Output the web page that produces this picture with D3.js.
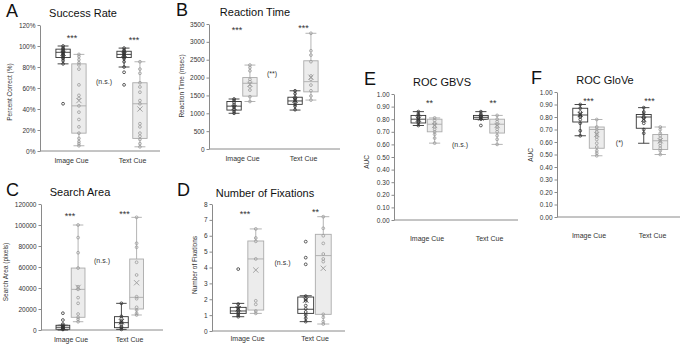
<!DOCTYPE html>
<html><head><meta charset="utf-8">
<script src="https://cdn.jsdelivr.net/npm/d3@7"></script>
<style>body{margin:0;background:#fff}svg text{font-family:"Liberation Sans",Arial,sans-serif}</style>
</head><body><svg id="c" width="685" height="346"></svg>
<script>
const categories = ["Image Cue", "Text Cue"];
// Box order in each panel: Image Cue (dark), Image Cue (light), Text Cue (dark), Text Cue (light)
// Stats: [whiskerLow, q1, median, q3, whiskerHigh, mean]
const successStats = [[0.83,0.89,0.94,0.97,1.00,0.93],[0.05,0.17,0.43,0.83,0.92,0.48],[0.80,0.89,0.92,0.95,0.98,0.92],[0.04,0.12,0.45,0.65,0.85,0.40]];
const successPoints = [[1.00,0.98,0.97,0.96,0.95,0.94,0.93,0.92,0.91,0.90,0.89,0.88,0.86,0.83,0.45],
  [0.92,0.90,0.87,0.84,0.82,0.78,0.63,0.53,0.50,0.43,0.37,0.30,0.23,0.17,0.12,0.09,0.07,0.05],
  [0.98,0.96,0.95,0.94,0.93,0.92,0.91,0.90,0.89,0.88,0.85,0.80,0.75,0.63],
  [0.85,0.78,0.74,0.65,0.61,0.56,0.48,0.45,0.26,0.23,0.17,0.14,0.11,0.07,0.04]];
const successTicks = [0,0.2,0.4,0.6,0.8,1.0,1.2];
const successSig = ["***","***","(n.s.)"];

const reactionStats = [[1000,1090,1200,1330,1400,1160],[1330,1480,1840,2000,2350,1810],[1090,1250,1345,1450,1630,1370],[1370,1600,1885,2470,3240,2010]];
const reactionPoints = [[1400,1360,1300,1250,1200,1160,1100,1050,1000],
  [2350,2280,2190,1950,1885,1745,1650,1465,1330],
  [1630,1550,1450,1400,1350,1300,1250,1200,1100],
  [3240,2750,2630,2445,2045,1950,1790,1630,1485,1370]];
const reactionTicks = [0,500,1000,1500,2000,2500,3000,3500];
const reactionSig = ["***","***","(**)"];

const areaStats = [[0,700,2600,4500,4500,2500],[7900,12100,38700,59000,100000,40600],[600,2200,7000,12700,25400,7900],[14300,20000,31100,67600,107300,45000]];
const areaPoints = [[16000,9500,5700,4500,3500,3000,2500,2000,1500,1000,500],
  [100000,88000,73600,59000,41200,38700,30800,25400,15200,12100,10200,7900],
  [25400,13000,11000,8000,7000,5000,3000,2200,600],
  [107300,82600,78800,64500,52400,31700,29800,21600,19000,15900,14300]];
const areaTicks = [0,20000,40000,60000,80000,100000,120000];
const areaSig = ["***","***","(n.s.)"];

const fixStats = [[0.9,1.11,1.26,1.49,1.74,1.4],[1.11,1.32,4.54,5.67,6.43,3.84],[0.59,1.11,1.37,2.14,2.22,1.95],[0.44,1.05,4.75,6.09,7.2,3.95]];
const fixPoints = [[3.9,1.7,1.5,1.4,1.3,1.2,1.1,1.0,0.9],
  [6.43,5.86,5.65,4.54,1.9,1.68,1.26,1.11],
  [5.63,4.62,4.2,2.2,2.0,1.9,1.6,1.4,1.2,1.0,0.8,0.59],
  [7.2,6.47,6.0,5.52,4.85,4.54,4.37,1.05,0.86,0.59,0.44]];
const fixTicks = [0,1,2,3,4,5,6,7,8];
const fixSig = ["***","**","(n.s.)"];

const gbvsStats = [[0.75,0.77,0.80,0.83,0.86,0.80],[0.61,0.70,0.76,0.80,0.81,0.75],[0.80,0.80,0.815,0.83,0.86,0.81],[0.60,0.69,0.76,0.80,0.83,0.75]];
const gbvsPoints = [[0.86,0.84,0.83,0.82,0.81,0.80,0.79,0.78,0.77,0.75],
  [0.81,0.79,0.77,0.76,0.74,0.72,0.70,0.68,0.65,0.61],
  [0.86,0.84,0.83,0.82,0.81,0.80,0.75],
  [0.83,0.80,0.78,0.76,0.74,0.72,0.70,0.67,0.64,0.60]];
const aucTicks = [0,0.1,0.2,0.3,0.4,0.5,0.6,0.7,0.8,0.9,1.0];
const gbvsSig = ["**","**","(n.s.)"];

const gloveStats = [[0.65,0.76,0.816,0.87,0.90,0.82],[0.49,0.55,0.70,0.72,0.78,0.66],[0.59,0.71,0.80,0.82,0.875,0.78],[0.50,0.54,0.61,0.66,0.72,0.61]];
const glovePoints = [[0.90,0.87,0.84,0.82,0.81,0.80,0.78,0.75,0.69,0.65],
  [0.78,0.72,0.70,0.68,0.66,0.64,0.62,0.59,0.56,0.53,0.51,0.49],
  [0.875,0.84,0.82,0.80,0.79,0.77,0.75,0.70,0.67],
  [0.72,0.70,0.67,0.65,0.63,0.61,0.59,0.57,0.55,0.53,0.50]];
const gloveSig = ["***","***","(*)"];

const panels = [
  {letter:"A", lx:6, ly:17, title:"Success Rate", tx:83, ty:16.5, ylab:"Percent Correct (%)", labx:9.5, laby:92,
   stats:successStats, points:successPoints, ticks:successTicks, fmt:d3.format(".0%"), sig:successSig,
   ax0:40, ax1:160, y0:151, y1:25, c1:71, c2:132, catDy:12, sigPos:[[72,36],[134,38],[104,81]]},
  {letter:"B", lx:176, ly:16, title:"Reaction Time", tx:255, ty:15.5, ylab:"Reaction Time (msec)", labx:181, laby:86,
   stats:reactionStats, points:reactionPoints, ticks:reactionTicks, fmt:d3.format("d"), sig:reactionSig,
   ax0:209, ax1:340, y0:149, y1:24, c1:242, c2:303, catDy:12, sigPos:[[237,27.5],[303.5,26],[272,73.5]]},
  {letter:"C", lx:6, ly:196, title:"Search Area", tx:80, ty:195.5, ylab:"Search Area (pixels)", labx:5, laby:272,
   stats:areaStats, points:areaPoints, ticks:areaTicks, fmt:d3.format("d"), sig:areaSig,
   ax0:41, ax1:163, y0:330, y1:204, c1:70.5, c2:129, catDy:12, sigPos:[[70,214],[124.5,212],[102,260.5]]},
  {letter:"D", lx:177, ly:196, title:"Number of Fixations", tx:265, ty:196.5, ylab:"Number of Fixations", labx:194.5, laby:265,
   stats:fixStats, points:fixPoints, ticks:fixTicks, fmt:d3.format("d"), sig:fixSig,
   ax0:212, ax1:345, y0:331, y1:204, c1:247, c2:314.5, catDy:10.5, sigPos:[[245,211.5],[315.5,210],[282.5,262.5]]},
  {letter:"E", lx:364, ly:85, title:"ROC GBVS", tx:442, ty:86, ylab:"AUC", labx:366.5, laby:162,
   stats:gbvsStats, points:gbvsPoints, ticks:aucTicks, fmt:d3.format(".2f"), sig:gbvsSig,
   ax0:394, ax1:518, y0:220, y1:94, c1:426.5, c2:489, catDy:21, sigPos:[[429.5,100.5],[493,100.5],[460,144.5]]},
  {letter:"F", lx:531, ly:83.5, title:"ROC GloVe", tx:605, ty:83.5, ylab:"AUC", labx:530.5, laby:155,
   stats:gloveStats, points:glovePoints, ticks:aucTicks, fmt:d3.format(".2f"), sig:gloveSig,
   ax0:557, ax1:680, y0:217, y1:92, c1:588.5, c2:652, catDy:21, sigPos:[[588.5,98.5],[649.5,98.5],[619.5,142.5]]}
];

const svg = d3.select("#c");
const AX = "#8a8a8a", TXT = "#333";
const styles = [
  {stroke:"#333", fill:"#fff", pt:"#333"},
  {stroke:"#ababab", fill:"#ececec", pt:"#9a9a9a"}
];

panels.forEach(p => {
  const g = svg.append("g");
  const d = p.c2 - p.c1;
  const x = d3.scalePoint().domain(categories).range([p.c1 - d/2, p.c2 + d/2]).padding(0.5);
  const y = d3.scaleLinear().domain([p.ticks[0], p.ticks[p.ticks.length-1]]).range([p.y0, p.y1]);
  const step = x.step();
  const bw = step * 0.235, off = step * 0.13;

  // letter + title
  g.append("text").attr("x", p.lx).attr("y", p.ly).attr("font-size", 18).attr("fill", "#111").text(p.letter);
  g.append("text").attr("x", p.tx).attr("y", p.ty).attr("text-anchor","middle").attr("font-size", 11).attr("fill", "#111").text(p.title);

  // y axis
  const ya = g.append("g").attr("transform", `translate(${p.ax0},0)`)
    .call(d3.axisLeft(y).tickValues(p.ticks).tickFormat(p.fmt).tickSize(2.5).tickPadding(2).tickSizeOuter(0));
  ya.select(".domain").attr("stroke", AX);
  ya.selectAll(".tick line").attr("stroke", AX);
  ya.selectAll(".tick text").attr("font-size", 6.5).attr("fill", TXT).attr("font-family", null);
  // x axis
  const xa = g.append("g").attr("transform", `translate(0,${p.y0})`)
    .call(d3.axisBottom(x).tickSize(0).tickPadding(p.catDy - 5));
  xa.select(".domain").remove();
  xa.selectAll(".tick text").attr("font-size", 7).attr("fill", TXT).attr("font-family", null);
  g.append("line").attr("x1", p.ax0).attr("x2", p.ax1).attr("y1", p.y0).attr("y2", p.y0).attr("stroke", AX);

  // y label
  g.append("text").attr("transform", `translate(${p.labx},${p.laby}) rotate(-90)`)
    .attr("text-anchor","middle").attr("dominant-baseline","central").attr("font-size", 6.5).attr("fill", TXT).text(p.ylab);

  // boxes
  p.stats.forEach((s, i) => {
    const cat = categories[Math.floor(i/2)];
    const st = styles[i % 2];
    const cx = x(cat) + (i % 2 === 0 ? -off : off);
    const bg = g.append("g");
    const cap = bw * 0.38;
    bg.append("line").attr("x1", cx).attr("x2", cx).attr("y1", y(s[0])).attr("y2", y(s[4])).attr("stroke", st.stroke).attr("stroke-width", 0.9);
    [s[0], s[4]].forEach(v => bg.append("line").attr("x1", cx - cap).attr("x2", cx + cap).attr("y1", y(v)).attr("y2", y(v)).attr("stroke", st.stroke).attr("stroke-width", 0.9));
    bg.append("rect").attr("x", cx - bw/2).attr("width", bw).attr("y", y(s[3])).attr("height", Math.max(0.5, y(s[1]) - y(s[3])))
      .attr("fill", st.fill).attr("stroke", st.stroke).attr("stroke-width", 0.9);
    bg.append("line").attr("x1", cx - bw/2).attr("x2", cx + bw/2).attr("y1", y(s[2])).attr("y2", y(s[2])).attr("stroke", st.stroke).attr("stroke-width", 0.9);
    bg.selectAll("circle").data(p.points[i]).join("circle")
      .attr("cx", cx).attr("cy", v => y(v)).attr("r", 1.4).attr("fill", "none").attr("stroke", st.pt).attr("stroke-width", 0.8);
    const m = y(s[5]), h = 2.6;
    bg.append("path").attr("d", `M${cx-h},${m-h}L${cx+h},${m+h}M${cx-h},${m+h}L${cx+h},${m-h}`).attr("stroke", st.pt).attr("stroke-width", 0.9);
  });

  // significance labels
  p.sig.forEach((t, i) => {
    const [sx, sy] = p.sigPos[i];
    const isStar = t.indexOf("(") < 0;
    g.append("text").attr("x", sx).attr("y", isStar ? sy + 5 : sy + 2.5).attr("text-anchor","middle")
      .attr("font-size", isStar ? 9 : 7).attr("fill", TXT).text(t);
  });
});
</script>
</body></html>
